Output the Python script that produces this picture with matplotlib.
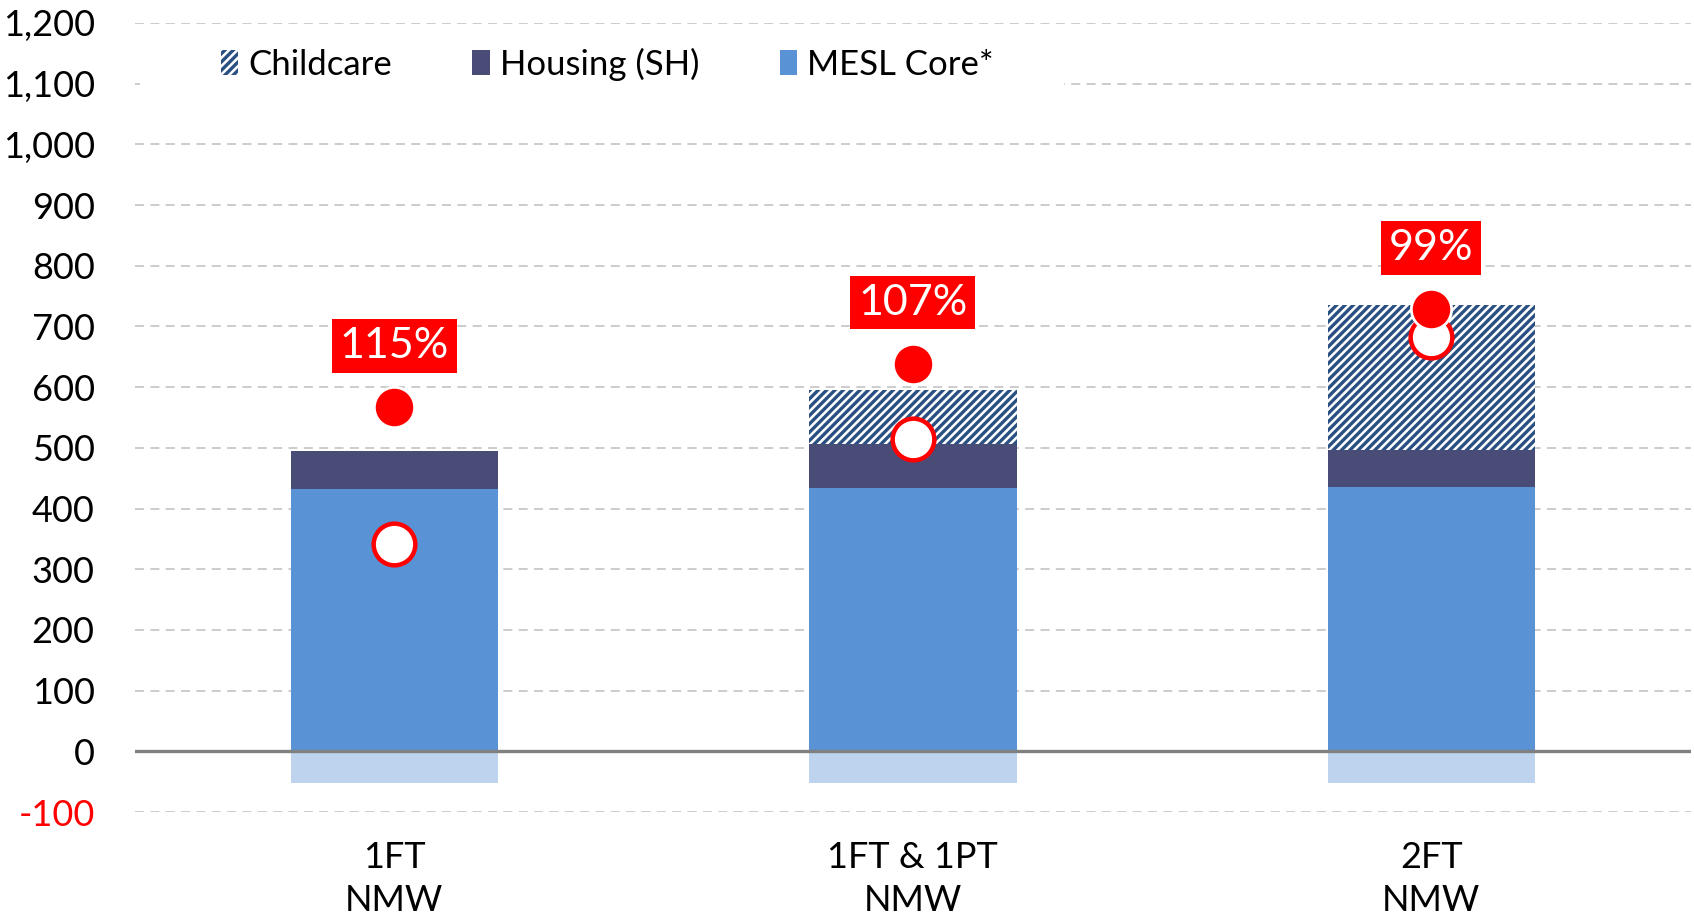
import matplotlib
matplotlib.use("Agg")
import matplotlib.pyplot as plt
from matplotlib.patches import Rectangle, Patch
from matplotlib.ticker import FuncFormatter
import numpy as np

# ---- data ----
categories = ["1FT\nNMW", "1FT & 1PT\nNMW", "2FT\nNMW"]
mesl_core = [432, 434, 435]
housing = [63, 72, 61]
childcare = [0, 90, 240]
below_zero = [-53, -53, -53]
income_filled = [567, 638, 728]
income_hollow = [342, 515, 683]
pct_labels = ["115%", "107%", "99%"]
yticks = [-100, 0, 100, 200, 300, 400, 500, 600, 700, 800, 900, 1000, 1100, 1200]

# ---- style ----
plt.rcParams['font.family'] = ['Lato', 'DejaVu Sans']
plt.rcParams['hatch.linewidth'] = 2.4

C_CORE = '#5A93D5'
C_HOUS = '#484C77'
C_CHILD = '#2A5082'
C_NEG = '#BDD3EE'
RED = '#FF0000'

fig = plt.figure(figsize=(16.94, 9.17), dpi=100)
ax = fig.add_axes([0.0797, 0.1145, 0.9183, 0.8605])

x = np.arange(len(categories))
w = 0.4
core = np.array(mesl_core)
hous = np.array(housing)
child = np.array(childcare)

ax.bar(x, below_zero, w, color=C_NEG, zorder=2)
ax.bar(x, core, w, color=C_CORE, zorder=2)
ax.bar(x, hous, w, bottom=core, color=C_HOUS, zorder=2)
ax.bar(x, child, w, bottom=core + hous, facecolor='white', edgecolor=C_CHILD,
       hatch='////', linewidth=0, zorder=2)

ax.axhline(0, color='#808080', lw=2.4, zorder=3)

ax.plot(x, income_hollow, 'o', ms=30, mfc='white', mec=RED, mew=3.2, zorder=5, ls='none')
ax.plot(x, income_filled, 'o', ms=29, mfc=RED, mec='white', mew=2, zorder=6, ls='none')

for xi, yi, t in zip(x, income_filled, pct_labels):
    ax.text(xi, yi + 101, t, ha='center', va='center', color='white', fontsize=31,
            zorder=7,
            bbox=dict(boxstyle='square,pad=0.18', facecolor=RED, edgecolor='none'))

ax.set_xlim(-0.5, 2.5)
ax.set_ylim(-100, 1200)
ax.set_yticks(yticks)
ax.yaxis.set_major_formatter(FuncFormatter(lambda v, p: f"{int(v):,}"))
ax.set_xticks(x)
ax.set_xticklabels(categories, fontsize=26, linespacing=1.35)
ax.tick_params(axis='y', labelsize=26, length=0, pad=29)
ax.tick_params(axis='x', length=0, pad=21)
for lab in ax.get_yticklabels():
    if lab.get_text().startswith('-'):
        lab.set_color(RED)

ax.grid(axis='y', color='#C8C8C8', linestyle=(0, (5, 3.5)), lw=1.3, zorder=0)
ax.set_axisbelow(True)
for s in ax.spines.values():
    s.set_visible(False)

# white background behind legend
ax.add_patch(Rectangle((0.003, (1050 + 100) / 1300), 0.594, 110 / 1300,
                       transform=ax.transAxes, facecolor='white', edgecolor='none', zorder=1))

handles = [Patch(facecolor='white', edgecolor=C_CHILD, hatch='////', linewidth=0),
           Patch(facecolor=C_HOUS), Patch(facecolor=C_CORE)]
ax.legend(handles, ["Childcare", "Housing (SH)", "MESL Core*"], ncol=3, loc='center left',
          bbox_to_anchor=(0.0553, (1132 + 100) / 1300), frameon=False, fontsize=25,
          handlelength=0.5, handleheight=0.7, handletextpad=0.3, columnspacing=2.3,
          borderpad=0, borderaxespad=0)

fig.savefig('out.png', dpi=100)
